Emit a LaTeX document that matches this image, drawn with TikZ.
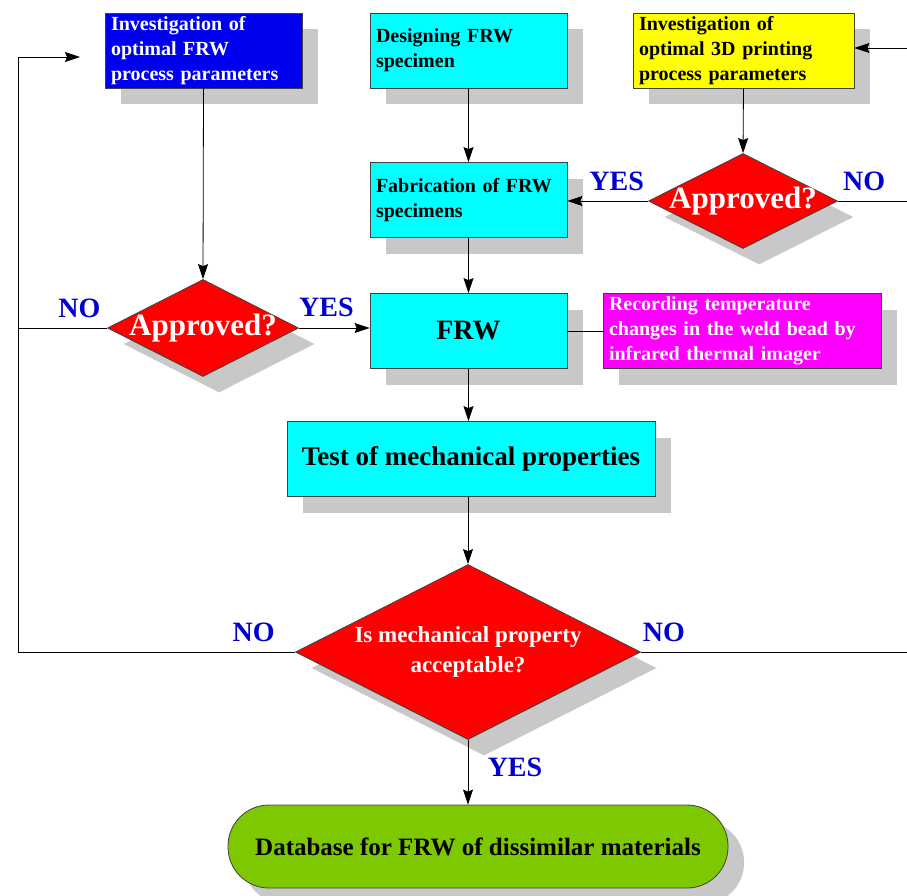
\documentclass[tikz,border=0pt]{standalone}
\usepackage{fontspec}
\setmainfont{Liberation Serif}
\usepackage{tikz}
\usepackage{xcolor}
\definecolor{frw_blue}{HTML}{0000F0}
\definecolor{frw_cyan}{HTML}{00FFFF}
\definecolor{frw_yellow}{HTML}{FFFF00}
\definecolor{frw_red}{HTML}{FF0000}
\definecolor{frw_magenta}{HTML}{FF00FF}
\definecolor{frw_green}{HTML}{7DC800}
\definecolor{frw_shadow}{HTML}{C8C8C8}
\definecolor{frw_label}{HTML}{0000D0}
\usetikzlibrary{shapes.geometric,positioning,calc,arrows.meta,shadows}
\tikzset{SHADOWED/.style={drop shadow={shadow xshift=16pt,shadow yshift=-16pt,fill=frw_shadow,opacity=1}}}
\tikzset{BOX/.style={rectangle,draw=black!75,line width=0.8pt,minimum width=197pt,minimum height=75pt,text width=185pt,inner xsep=6pt,inner ysep=1pt,align=left,font=\fontsize{20}{25}\selectfont\bfseries,SHADOWED}}
\tikzset{BIGBOX/.style={rectangle,draw=black!75,line width=0.8pt,minimum height=75pt,align=center,fill=frw_cyan,SHADOWED}}
\tikzset{DECISION/.style={diamond,draw=black!75,line width=0.8pt,inner sep=0pt,fill=frw_red,SHADOWED}}
\tikzset{DTEXT/.style={text=white,align=center,inner sep=0pt,font=\fontsize{23}{30}\selectfont\bfseries}}
\tikzset{TERMINAL/.style={rectangle,rounded corners=41pt,draw=black!75,line width=0.8pt,fill=frw_green,minimum width=500pt,minimum height=83pt,font=\fontsize{25}{30}\selectfont\bfseries,SHADOWED}}
\tikzset{ARROW/.style={line width=0.8pt,-{Stealth[length=15pt,width=10pt,inset=2pt]}}}
\tikzset{LINE/.style={line width=0.8pt}}
\tikzset{LBL/.style={text=frw_label,inner sep=0pt,font=\fontsize{28}{30}\selectfont\bfseries}}

\begin{document}
\begin{tikzpicture}[x=1pt,y=-1pt]

\useasboundingbox (0,0) rectangle (907,895);

% top row
\node[BOX, fill=frw_blue, text=white] (n_frw_param) at (203.5,50.5) {Investigation of\\optimal FRW\\process parameters};
\node[BOX, fill=frw_cyan] (n_design) at (468.5,50.5) {Designing FRW\\specimen};
\node[BOX, fill=frw_yellow, minimum width=221pt, text width=209pt] (n_print_param) at (743.5,50.5) {Investigation of\\optimal 3D printing\\process parameters};

% second row
\node[DECISION, minimum width=189pt, minimum height=95pt, label={[DTEXT, font=\fontsize{31}{30}\selectfont\bfseries]center:Approved?}] (n_approve_print) at (743,201) {};
\node[BOX, fill=frw_cyan] (n_fabricate) at (468.5,200) {Fabrication of FRW\\specimens};

% third row
\node[DECISION, minimum width=191pt, minimum height=97pt, label={[DTEXT, font=\fontsize{31}{30}\selectfont\bfseries]center:Approved?}] (n_approve_frw) at (203,328) {};
\node[BIGBOX, minimum width=197pt, font=\fontsize{28}{30}\selectfont\bfseries] (n_frw) at (468.5,331) {FRW};
\node[BOX, fill=frw_magenta, text=white, minimum width=278pt, text width=266pt] (n_record) at (742,331) {Recording temperature\\changes in the weld bead by\\infrared thermal imager};

% test and decision
\node[BIGBOX, minimum width=368pt, font=\fontsize{27}{30}\selectfont\bfseries] (n_test) at (471,459) {Test of mechanical properties};
\node[DECISION, minimum width=345pt, minimum height=175pt, label={[DTEXT]center:{Is mechanical property\\acceptable?}}] (n_accept) at (468,652) {};
\node[TERMINAL] (n_database) at (478,846.5) {Database for FRW of dissimilar materials};

% loop coordinates
\coordinate (c_loop_top) at (18,57);
\coordinate (c_loop_tip) at (80,57);
\coordinate (c_loop_bottom) at (c_loop_top |- n_accept.west);
\coordinate (c_edge_print) at (907,48);
\coordinate (c_edge_approve) at (907,201);
\coordinate (c_edge_accept) at (907,652);

% connectors
\draw[ARROW] (n_frw_param.south) -- (n_approve_frw.north);
\draw[ARROW] (n_design.south) -- (n_fabricate.north);
\draw[ARROW] (n_print_param.south) -- (n_approve_print.north);
\draw[ARROW] (c_edge_print) -- (c_edge_print -| n_print_param.east);
\draw[ARROW] (n_approve_print.west) -- node[LBL, pos=0.39, yshift=20pt]{YES} (n_approve_print.west -| n_fabricate.east);
\draw[LINE] (n_approve_print.east) -- node[LBL, pos=0.38, yshift=20pt]{NO} (c_edge_approve);
\draw[ARROW] (n_fabricate.south) -- (n_frw.north);
\draw[ARROW] (n_approve_frw.east) -- node[LBL, pos=0.39, yshift=21pt]{YES} (n_approve_frw.east -| n_frw.west);
\draw[LINE] (n_approve_frw.west) -- node[LBL, pos=0.31, yshift=20pt]{NO} (n_approve_frw.west -| c_loop_top);
\draw[LINE] (n_frw.east) -- (n_record.west);
\draw[ARROW] (n_frw.south) -- (n_frw.south |- n_test.north);
\draw[ARROW] (n_accept.north |- n_test.south) -- (n_accept.north);
\draw[LINE] (n_accept.west) -- node[LBL, pos=0.15, yshift=20pt]{NO} (c_loop_bottom) -- (c_loop_top);
\draw[ARROW] (c_loop_top) -- (c_loop_tip);
\draw[LINE] (n_accept.east) -- node[LBL, pos=0.086, yshift=20pt]{NO} (c_edge_accept);
\draw[ARROW] (n_accept.south) -- node[LBL, pos=0.43, xshift=47pt]{YES} (n_accept.south |- n_database.north);

\end{tikzpicture}
\end{document}
